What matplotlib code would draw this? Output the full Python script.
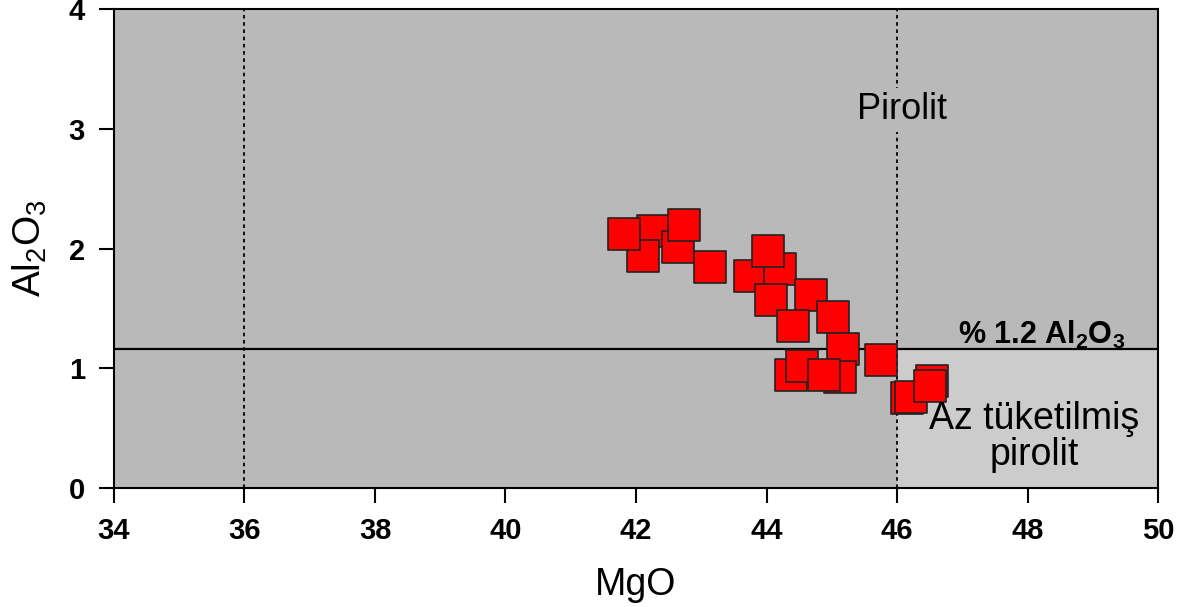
import matplotlib.pyplot as plt
from matplotlib.patches import Rectangle

plt.rcParams['font.family'] = ['Liberation Sans', 'DejaVu Sans']
plt.rcParams['mathtext.fontset'] = 'custom'
plt.rcParams['mathtext.rm'] = 'Liberation Sans'
plt.rcParams['mathtext.bf'] = 'Liberation Sans:bold'

# MgO / Al2O3 values
mgo = [42.26, 42.11, 41.81, 42.65, 42.73, 43.14, 43.74, 44.20, 44.02, 44.07,
       44.68, 44.40, 45.02, 45.17, 45.76, 45.13, 44.38, 44.54, 44.88,
       46.16, 46.21, 46.53, 46.51]
al2o3 = [2.15, 1.94, 2.12, 2.01, 2.20, 1.85, 1.77, 1.83, 1.98, 1.57,
         1.61, 1.35, 1.43, 1.16, 1.07, 0.93, 0.94, 1.02, 0.94,
         0.75, 0.76, 0.89, 0.85]

xlim = (34, 50)
ylim = (0, 4)
pyrolite_mgo = 46
limit_al = 1.16
dotted_x = [36, 46]

fig = plt.figure(figsize=(11.87, 6.07), dpi=100)
ax = fig.add_axes([0.096, 0.196, 0.8796, 0.789])
ax.set_facecolor('#b9b9b9')
ax.add_patch(Rectangle((pyrolite_mgo, 0), xlim[1] - pyrolite_mgo, limit_al,
                       facecolor='#cccccc', edgecolor='none', zorder=0.5))

for xv in dotted_x:
    ax.axvline(xv, color='black', lw=1.3, ls=(0, (2, 2)), zorder=1)
ax.axhline(limit_al, color='black', lw=1.6, zorder=1)

ax.scatter(mgo, al2o3, marker='s', s=500, c='#ff0000', edgecolors='#222222',
           linewidths=1.2, zorder=3)

ax.text(46.08, 3.16, 'Pirolit', ha='center', va='center', fontsize=26,
        bbox=dict(facecolor='#b9b9b9', edgecolor='none', pad=3), zorder=2)
ax.text(48.22, 1.28, r'% 1.2 Al$_\mathbf{2}$O$_\mathbf{3}$', ha='center', va='center',
        fontsize=22, fontweight='bold', zorder=2)
ax.text(48.1, 0.43, 'Az tüketilmiş\npirolit', ha='center', va='center',
        fontsize=27, linespacing=1.0, zorder=4)

ax.set_xlim(*xlim)
ax.set_ylim(*ylim)
ax.set_xticks(range(34, 51, 2))
ax.set_yticks(range(0, 5))
ax.tick_params(direction='out', length=11, width=1.5, labelsize=21, pad=10)
for lab in ax.get_xticklabels() + ax.get_yticklabels():
    lab.set_fontweight('bold')
for sp in ax.spines.values():
    sp.set_linewidth(1.5)

ax.set_xlabel('MgO', fontsize=27, labelpad=16)
ax.set_ylabel(r'Al$_2$O$_3$', fontsize=28, labelpad=14)

fig.savefig('out.png', dpi=100)
